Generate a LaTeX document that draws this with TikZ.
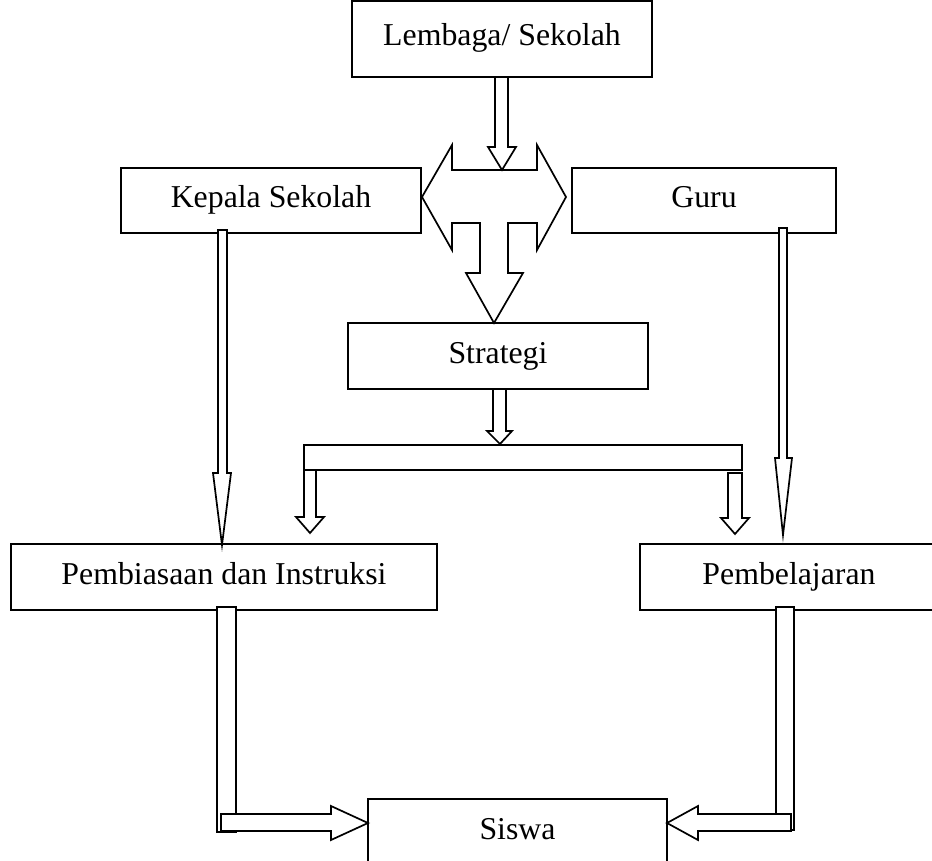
\documentclass[tikz,border=0pt]{standalone}
\usepackage{fontspec}
\setmainfont{Liberation Serif}
\begin{document}
\begin{tikzpicture}[x=1pt,y=-1pt,
  box/.style={draw,line width=1.7pt,fill=white,inner sep=0pt,text height=22pt,text depth=8pt,font=\fontsize{31.8}{38}\selectfont},
  barrow/.style={draw,line width=1.7pt,fill=white,line join=miter}]
\useasboundingbox (0,0) rectangle (932,861);
% boxes
\node[box,minimum width=300pt,minimum height=76pt] (lem) at (502,39) {Lembaga/ Sekolah};
\node[box,minimum width=300pt,minimum height=65pt] (kep) at (271,200.5) {Kepala Sekolah};
\node[box,minimum width=264pt,minimum height=65pt] (guru) at (704,200.5) {Guru};
\node[box,minimum width=300pt,minimum height=66pt] (strat) at (498,356) {Strategi};
\node[box,minimum width=426pt,minimum height=66pt] (pemb) at (224,577) {Pembiasaan dan Instruksi};
\node[box,minimum width=298pt,minimum height=66pt] (pbl) at (789,577) {Pembelajaran};
\node[box,minimum width=299pt,minimum height=66pt] (siswa) at (517.5,832) {Siswa};
% four-way block arrow
\draw[barrow] (422,197) -- (452,145) -- (452,170) -- (537,170) -- (537,145) -- (566,197)
  -- (537,250) -- (537,223) -- (508,223) -- (508,273) -- (523,273) -- (494,323)
  -- (466,273) -- (480,273) -- (480,223) -- (452,223) -- (452,250) -- cycle;
% Lembaga down arrow
\draw[barrow] (495,77) -- (508,77) -- (508,147) -- (516,147) -- (502,170) -- (488,147) -- (495,147) -- cycle;
% Strategi down arrow
\draw[barrow] (493,389) -- (506,389) -- (506,431) -- (512,431) -- (500,444) -- (487,431) -- (493,431) -- cycle;
% split bar
\draw[barrow] (304,445) rectangle (742,470);
\draw[barrow] (304,470) -- (316,470) -- (316,517) -- (324,517) -- (310,533) -- (296,517) -- (304,517) -- cycle;
\draw[barrow] (728,473) -- (742,473) -- (742,518) -- (749,518) -- (735,534) -- (721,518) -- (728,518) -- cycle;
% long thin arrows
\draw[barrow] (218,230) -- (227,230) -- (227,473) -- (231,473) -- (222,545) -- (213,473) -- (218,473) -- cycle;
\draw[barrow] (779,228) -- (787,228) -- (787,458) -- (792,458) -- (783,535) -- (775,458) -- (779,458) -- cycle;
% bottom L arrows
\draw[barrow] (217,607) rectangle (236,832);
\draw[barrow] (221,814) -- (331,814) -- (331,806) -- (368,823) -- (331,840) -- (331,831) -- (221,831) -- cycle;
\draw[barrow] (776,607) rectangle (794,830);
\draw[barrow] (791,814) -- (698,814) -- (698,806) -- (667,823) -- (698,840) -- (698,831) -- (791,831) -- cycle;
\end{tikzpicture}
\end{document}
